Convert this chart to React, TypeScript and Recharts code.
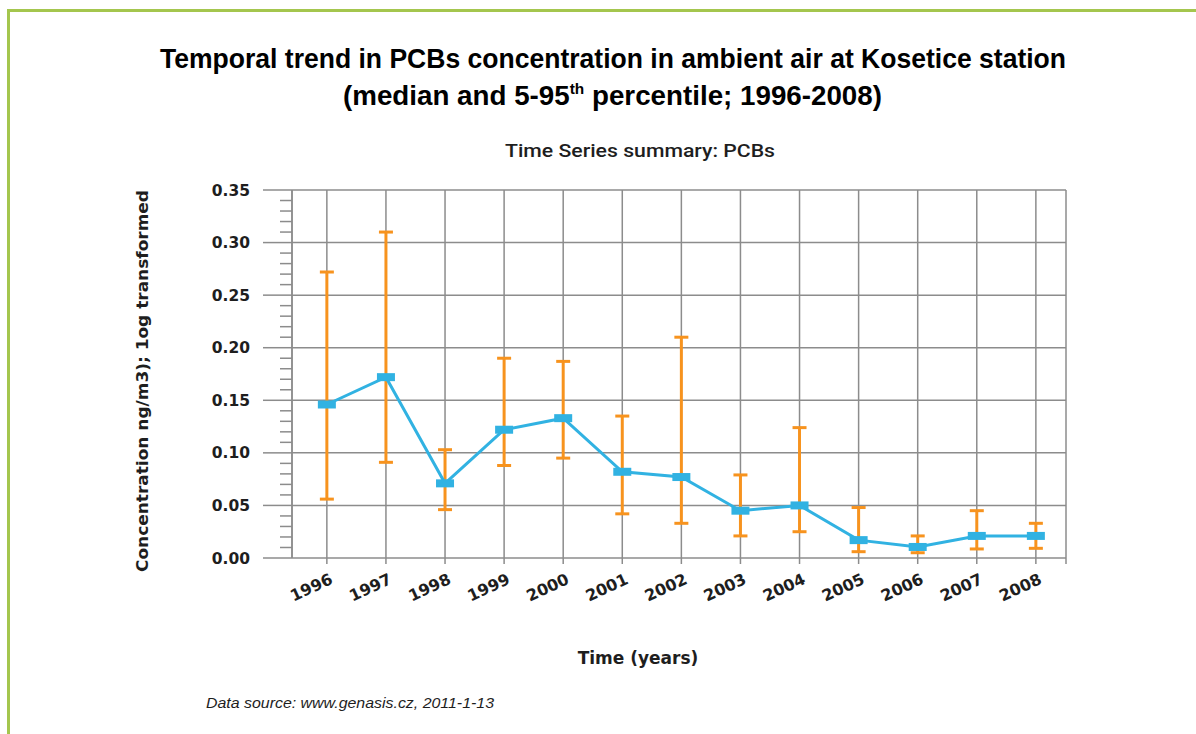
import React from "react";
import {
  LineChart,
  Line,
  XAxis,
  YAxis,
  CartesianGrid,
  ReferenceLine,
  ErrorBar,
} from "recharts";

// PCBs at Kosetice, median with 5th / 95th percentile
const years = [1996, 1997, 1998, 1999, 2000, 2001, 2002, 2003, 2004, 2005, 2006, 2007, 2008];
const median = [0.146, 0.172, 0.071, 0.122, 0.133, 0.082, 0.077, 0.045, 0.05, 0.017, 0.0105, 0.021, 0.021];
const p95 = [0.272, 0.31, 0.103, 0.19, 0.187, 0.135, 0.21, 0.079, 0.124, 0.048, 0.021, 0.045, 0.033];
const p5 = [0.056, 0.091, 0.046, 0.088, 0.095, 0.042, 0.033, 0.021, 0.025, 0.006, 0.005, 0.0086, 0.0092];

const majorTicks = [0, 0.05, 0.1, 0.15, 0.2, 0.25, 0.3, 0.35];
const yTicks = Array.from({ length: 36 }, (_, i) => i / 100);
const xMin = 1995.41;
const xMax = 2008.51;

const data = years.map((year, i) => ({
  year,
  median: median[i],
  err: [median[i] - p5[i], p95[i] - median[i]],
}));

const GRID = "#8c8c8c";
const BLUE = "#31b2e2";
const ORANGE = "#f7931e";
const GREEN = "#a4c64e";
const TEXT = "#1e1e1e";

const TICK_SIZE = 29;
const TICK_MARGIN = 13;

function YTick(props: any) {
  const { x, y, payload } = props;
  const v = payload.value as number;
  const right = x + TICK_MARGIN + TICK_SIZE;
  const major = Math.round(v * 100) % 5 === 0;
  return (
    <g>
      <line
        x1={major ? right - TICK_SIZE : right - 12}
        x2={right}
        y1={y}
        y2={y}
        stroke={GRID}
        strokeWidth={1.5}
      />
      {major && (
        <text
          x={x}
          y={y}
          dy="0.36em"
          textAnchor="end"
          fontFamily="DejaVu Sans"
          fontWeight="bold"
          fontSize={15.5}
          fill={TEXT}
        >
          {v.toFixed(2)}
        </text>
      )}
    </g>
  );
}

function XTick(props: any) {
  const { x, y, payload } = props;
  const v = payload.value as number;
  if (!Number.isInteger(v)) return <g />;
  const tx = x + 7;
  const ty = y + 19;
  return (
    <text
      x={tx}
      y={ty}
      textAnchor="end"
      transform={`rotate(-25 ${tx} ${ty})`}
      fontFamily="DejaVu Sans"
      fontWeight="bold"
      fontSize={16}
      fill={TEXT}
    >
      {v}
    </text>
  );
}

function Marker(props: any) {
  const { cx, cy, index } = props;
  return <rect key={index} x={cx - 9} y={cy - 4} width={18} height={8} fill={BLUE} />;
}

export default function App() {
  return (
    <div style={{ position: "absolute", left: 0, top: 0, width: 1196, height: 734, background: "#fff" }}>
      <LineChart
        width={1196}
        height={734}
        data={data}
        margin={{ top: 190, right: 130, bottom: 116, left: 180 }}
      >
        <CartesianGrid horizontal={false} stroke={GRID} strokeWidth={1.5} />
        <XAxis
          type="number"
          dataKey="year"
          domain={[xMin, xMax]}
          ticks={[...years, xMax]}
          interval={0}
          allowDataOverflow
          height={60}
          tickSize={6}
          tickMargin={0}
          tickLine={{ stroke: GRID, strokeWidth: 1.5 }}
          axisLine={{ stroke: GRID, strokeWidth: 1.5 }}
          tick={XTick}
        />
        <YAxis
          domain={[0, 0.35]}
          ticks={yTicks}
          interval={0}
          width={112}
          tickSize={TICK_SIZE}
          tickMargin={TICK_MARGIN}
          tickLine={false}
          axisLine={{ stroke: GRID, strokeWidth: 1.5 }}
          tick={YTick}
        />
        {majorTicks.slice(1).map((v) => (
          <ReferenceLine key={v} y={v} stroke={GRID} strokeWidth={1.5} />
        ))}
        <Line
          type="linear"
          dataKey="median"
          stroke={BLUE}
          strokeWidth={3}
          dot={Marker}
          activeDot={false}
          isAnimationActive={false}
        >
          <ErrorBar
            dataKey="err"
            direction="y"
            width={7}
            stroke={ORANGE}
            strokeWidth={3}
            isAnimationActive={false}
          />
        </Line>
      </LineChart>

      <svg
        width={1196}
        height={734}
        style={{ position: "absolute", left: 0, top: 0, pointerEvents: "none" }}
      >
        <rect x={7} y={9} width={1189} height={3} fill={GREEN} />
        <rect x={7} y={9} width={3} height={725} fill={GREEN} />
        <text
          x={160}
          y={68}
          textLength={906}
          lengthAdjust="spacingAndGlyphs"
          fontFamily="Liberation Sans"
          fontWeight="bold"
          fontSize={27}
          fill="#000"
        >
          Temporal trend in PCBs concentration in ambient air at Kosetice station
        </text>
        <text
          x={343}
          y={105}
          textLength={539}
          lengthAdjust="spacingAndGlyphs"
          fontFamily="Liberation Sans"
          fontWeight="bold"
          fontSize={27}
          fill="#000"
        >
          (median and 5-95
          <tspan fontSize={15} dy={-11}>th</tspan>
          <tspan dy={11}> percentile; 1996-2008)</tspan>
        </text>
        <text
          x={505}
          y={157}
          textLength={270}
          lengthAdjust="spacingAndGlyphs"
          fontFamily="Roboto"
          fontWeight={500}
          fontSize={19}
          fill={TEXT}
        >
          Time Series summary: PCBs
        </text>
        <text
          x={0}
          y={0}
          transform="translate(148 381) rotate(-90)"
          textAnchor="middle"
          textLength={382}
          lengthAdjust="spacingAndGlyphs"
          fontFamily="DejaVu Sans"
          fontWeight="bold"
          fontSize={16}
          fill={TEXT}
        >
          Concentration ng/m3); 1og transformed
        </text>
        <text
          x={638}
          y={664}
          textAnchor="middle"
          fontFamily="DejaVu Sans"
          fontWeight="bold"
          fontSize={17}
          fill={TEXT}
        >
          Time (years)
        </text>
        <text
          x={206}
          y={708}
          textLength={288}
          lengthAdjust="spacingAndGlyphs"
          fontFamily="Liberation Sans"
          fontStyle="italic"
          fontSize={14.5}
          fill={TEXT}
        >
          Data source: www.genasis.cz, 2011-1-13
        </text>
      </svg>
    </div>
  );
}
